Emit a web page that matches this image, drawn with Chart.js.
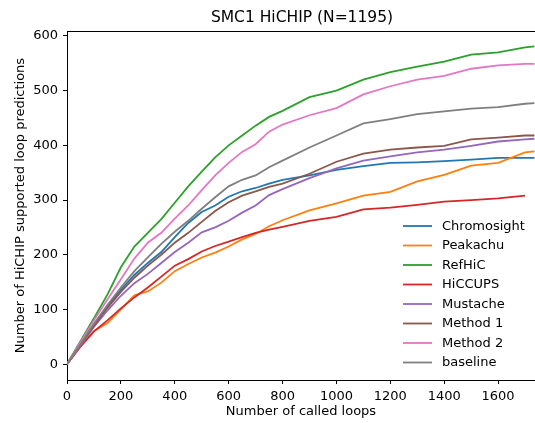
<!DOCTYPE html>
<html>
<head>
<meta charset="utf-8">
<script src="https://cdn.jsdelivr.net/npm/chart.js@4.4.0/dist/chart.umd.min.js"></script>
<style>
  html, body { margin: 0; padding: 0; background: #fff; }
  #wrap { width: 535px; height: 423px; }
</style>
</head>
<body>
<div id="wrap"><canvas id="chart" width="535" height="423"></canvas></div>
<script>
// Data
const calledLoops = [0, 50, 100, 150, 200, 250, 300, 350, 400, 450, 500, 550, 600, 650, 700, 750, 800, 900, 1000, 1100, 1200, 1300, 1400, 1500, 1600, 1700, 1735];

const chromosight = [0, 37, 72, 106, 136, 163, 185, 205, 232, 258, 278, 290, 306, 316, 322, 330, 337, 345, 355, 362, 368, 369, 371, 374, 377, 377, 377];
const peakachu    = [0, 33, 60, 75, 100, 126, 133, 149, 170, 183, 195, 204, 215, 228, 238, 252, 263, 281, 294, 308, 315, 334, 346, 363, 368, 387, 389];
const refhic      = [0, 42, 84, 127, 177, 215, 240, 265, 295, 325, 352, 378, 400, 418, 436, 452, 463, 488, 500, 520, 534, 544, 553, 566, 570, 579, 581];
const hiccups     = [0, 32, 60, 80, 102, 122, 140, 160, 180, 192, 206, 216, 224, 232, 240, 246, 251, 262, 269, 283, 286, 291, 297, 300, 303, 308, null];
const mustache    = [0, 34, 68, 98, 125, 148, 165, 185, 205, 222, 241, 250, 262, 277, 290, 309, 320, 340, 358, 372, 380, 387, 392, 399, 407, 411, 412];
const method1     = [0, 36, 70, 103, 132, 158, 180, 200, 222, 240, 260, 280, 296, 308, 316, 324, 330, 348, 370, 385, 392, 396, 399, 411, 414, 418, 418];
const method2     = [0, 40, 80, 118, 155, 193, 222, 240, 266, 290, 318, 345, 368, 388, 402, 425, 438, 455, 468, 493, 508, 520, 527, 540, 546, 549, 549];
const baseline    = [0, 37, 74, 108, 140, 170, 195, 220, 242, 262, 284, 305, 325, 337, 345, 360, 372, 396, 418, 440, 448, 457, 462, 467, 470, 476, 477];

const seriesNames = ['Chromosight', 'Peakachu', 'RefHiC', 'HiCCUPS', 'Mustache', 'Method 1', 'Method 2', 'baseline'];
const seriesValues = [chromosight, peakachu, refhic, hiccups, mustache, method1, method2, baseline];
const seriesColors = ['#1f77b4', '#ff7f0e', '#2ca02c', '#d62728', '#9467bd', '#8c564b', '#e377c2', '#7f7f7f'];

const xTicks = [0, 200, 400, 600, 800, 1000, 1200, 1400, 1600];
const yTicks = [0, 100, 200, 300, 400, 500, 600];

const FONT = 'DejaVu Sans';

const datasets = seriesNames.map((name, i) => ({
  label: name,
  data: calledLoops.map((x, j) => ({ x, y: seriesValues[i][j] })),
  borderColor: seriesColors[i],
  backgroundColor: seriesColors[i],
  borderWidth: 1.8,
  pointRadius: 0,
  tension: 0,
  spanGaps: false,
  order: seriesNames.length - i
}));

// Title, top spine and in-plot legend
const extras = {
  id: 'extras',
  afterDraw(chart) {
    const ctx = chart.ctx;
    const area = chart.chartArea;
    ctx.save();
    ctx.strokeStyle = '#000';
    ctx.lineWidth = 1;
    ctx.beginPath();
    ctx.moveTo(area.left, area.top + 0.5);
    ctx.lineTo(area.right, area.top + 0.5);
    ctx.stroke();

    ctx.fillStyle = '#000';
    ctx.font = '15.5px "' + FONT + '"';
    ctx.textAlign = 'center';
    ctx.textBaseline = 'middle';
    ctx.fillText('SMC1 HiCHIP (N=1195)', (area.left + 537) / 2, 18);

    ctx.font = '13px "' + FONT + '"';
    ctx.textAlign = 'left';
    chart.data.datasets.forEach((ds, i) => {
      const y = 226 + i * 19.5;
      ctx.strokeStyle = ds.borderColor;
      ctx.lineWidth = 1.8;
      ctx.beginPath();
      ctx.moveTo(403, y);
      ctx.lineTo(432, y);
      ctx.stroke();
      ctx.fillStyle = '#000';
      ctx.fillText(ds.label, 442, y + 0.5);
    });
    ctx.restore();
  }
};

new Chart(document.getElementById('chart'), {
  type: 'line',
  data: { datasets },
  options: {
    responsive: false,
    animation: false,
    layout: { padding: { top: 31, left: 0, right: 0, bottom: 0 } },
    plugins: {
      legend: { display: false },
      title: { display: false },
      tooltip: { enabled: false }
    },
    scales: {
      x: {
        type: 'linear',
        min: 0,
        max: 1737,
        afterBuildTicks: s => { s.ticks = xTicks.map(v => ({ value: v })); },
        afterFit: s => { s.height = 43; },
        grid: { drawOnChartArea: false, drawTicks: true, tickLength: 4, color: '#000' },
        border: { display: true, color: '#000', width: 1 },
        ticks: { color: '#000', padding: 5, maxRotation: 0, callback: v => String(v), font: { family: FONT, size: 13 } },
        title: { display: true, text: 'Number of called loops', color: '#000', padding: { top: 0, bottom: 4 }, font: { family: FONT, size: 13 } }
      },
      y: {
        type: 'linear',
        min: -29,
        max: 609,
        afterBuildTicks: s => { s.ticks = yTicks.map(v => ({ value: v })); },
        afterFit: s => { s.width = 67; },
        grid: { drawOnChartArea: false, drawTicks: true, tickLength: 4, color: '#000' },
        border: { display: true, color: '#000', width: 1 },
        ticks: { color: '#000', padding: 5, callback: v => String(v), font: { family: FONT, size: 13 } },
        title: { display: true, text: 'Number of HiCHIP supported loop predictions', color: '#000', padding: { top: 13, bottom: 0 }, font: { family: FONT, size: 13 } }
      }
    }
  },
  plugins: [extras]
});
</script>
</body>
</html>
